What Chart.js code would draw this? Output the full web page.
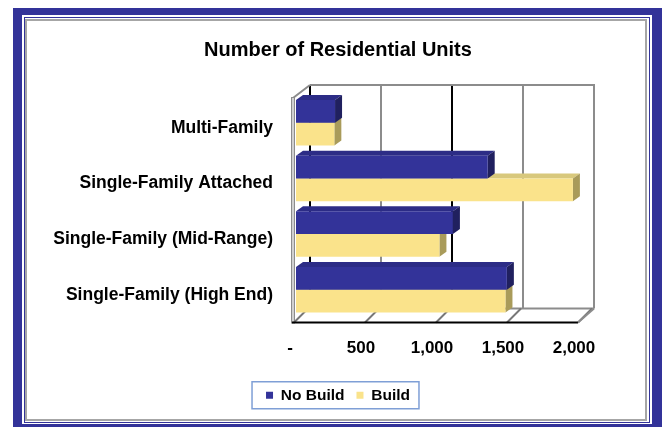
<!DOCTYPE html>
<html>
<head>
<meta charset="utf-8">
<script src="https://cdn.jsdelivr.net/npm/chart.js@4"></script>
<style>
  html, body { margin: 0; padding: 0; background: #fff; overflow: hidden; }
  .frame { position: absolute; box-sizing: border-box; }
  #blue  { left: 13px; top: 8px;  width: 670px; height: 440px; background: #333399; }
  #white { left: 22px; top: 15px; width: 630px; height: 409px; background: #fff; }
  #thin  { left: 24px; top: 17px; width: 626px; height: 406px; border: 1px solid #333399; }
  #gray  { left: 25px; top: 19px; width: 622px; height: 402px; border: 2px solid #a6a6a6; background: #fff; }
  #wrap  { position: absolute; left: 0; top: 0; width: 662px; height: 427px; }
</style>
</head>
<body>
<div class="frame" id="blue"></div>
<div class="frame" id="white"></div>
<div class="frame" id="thin"></div>
<div class="frame" id="gray"></div>
<div id="wrap"><canvas id="chart"></canvas></div>
<script>
// ----- data -----
const categories = ['Multi-Family', 'Single-Family Attached', 'Single-Family (Mid-Range)', 'Single-Family (High End)'];
const noBuild = [275, 1350, 1105, 1485];
const build   = [270, 1950, 1010, 1475];
const seriesNames = ['No Build', 'Build'];
const tickValues = [0, 500, 1000, 1500, 2000];
const tickLabels = ['-', '500', '1,000', '1,500', '2,000'];

// ----- styling -----
const FONT = 'Arial, "Liberation Sans", sans-serif';
const BLUE = '#333399', YELLOW = '#FAE38B';
const faces = {
  [BLUE]:   { top: '#2c2c86', side: '#20205f' },
  [YELLOW]: { top: '#d8c87c', side: '#a99b5a' }
};
// wall depth: back wall is shifted right by dx; its top sits 10px above the plot,
// the floor's back edge 9px above the plot bottom, its front edge 5px below
const WALL = { dx: 14, topLift: 10, floorBack: 9, floorFront: 5 };
const BAR  = { dx: 7, dy: -5 };
const gridClr = v => (v === 0 || v === 1000) ? '#000' : '#8c8c8c';

/* back wall, floor and side walls drawn behind the bars */
const wall3d = {
  id: 'wall3d',
  beforeDatasetsDraw(chart) {
    const { ctx, chartArea: a, scales: { x } } = chart;
    const dx = WALL.dx;
    const backTop = a.top - WALL.topLift, backBot = a.bottom - WALL.floorBack;
    const floorY = a.bottom + WALL.floorFront;
    ctx.save();

    // back-wall gridlines
    tickValues.forEach(v => {
      const px = x.getPixelForValue(v) + dx;
      ctx.strokeStyle = gridClr(v);
      ctx.lineWidth = 2;
      ctx.beginPath();
      ctx.moveTo(px, backTop);
      ctx.lineTo(px, backBot);
      ctx.stroke();
    });

    // top and floor back edges, top-left diagonal
    ctx.strokeStyle = '#8c8c8c';
    ctx.lineWidth = 2;
    ctx.beginPath();
    ctx.moveTo(a.left + dx, backTop); ctx.lineTo(a.right + dx + 1, backTop);
    ctx.moveTo(a.left + dx, backBot); ctx.lineTo(a.right + dx, backBot);
    ctx.moveTo(a.left - 3, a.top + 3); ctx.lineTo(a.left + dx, backTop);
    ctx.stroke();

    // left wall (thin slab)
    ctx.fillStyle = '#d0d0d0';
    ctx.fillRect(a.left - 4, a.top + 2, 3, floorY - a.top - 2);
    ctx.strokeStyle = '#8c8c8c';
    ctx.lineWidth = 1;
    ctx.strokeRect(a.left - 4.5, a.top + 2.5, 3, floorY - a.top - 2);

    // floor diagonals at each tick
    ctx.strokeStyle = '#777';
    ctx.lineWidth = 2;
    tickValues.forEach(v => {
      const px = x.getPixelForValue(v);
      ctx.beginPath();
      ctx.moveTo(px - 2, floorY);
      ctx.lineTo(px + dx - 2, backBot);
      ctx.stroke();
    });

    // bar depth faces (lower series first so the upper bar sits on it)
    for (let d = chart.data.datasets.length - 1; d >= 0; d--) {
      const ds = chart.data.datasets[d];
      const f = faces[ds.backgroundColor];
      chart.getDatasetMeta(d).data.forEach(el => {
        const x0 = el.base, x1 = el.x;
        const t = el.y - el.height / 2, b = el.y + el.height / 2;
        ctx.fillStyle = f.top;
        ctx.beginPath();
        ctx.moveTo(x0, t); ctx.lineTo(x0 + BAR.dx, t + BAR.dy);
        ctx.lineTo(x1 + BAR.dx, t + BAR.dy); ctx.lineTo(x1, t);
        ctx.closePath(); ctx.fill();
        ctx.fillStyle = f.side;
        ctx.beginPath();
        ctx.moveTo(x1, t); ctx.lineTo(x1 + BAR.dx, t + BAR.dy);
        ctx.lineTo(x1 + BAR.dx, b + BAR.dy); ctx.lineTo(x1, b);
        ctx.closePath(); ctx.fill();
      });
    }
    ctx.restore();
  },
  afterDatasetsDraw(chart) {
    const { ctx, chartArea: a } = chart;
    const floorY = a.bottom + WALL.floorFront;
    ctx.save();
    // front floor edge and right-hand corner
    ctx.strokeStyle = '#000';
    ctx.lineWidth = 2;
    ctx.beginPath();
    ctx.moveTo(a.left - 4, floorY); ctx.lineTo(a.right - 2, floorY);
    ctx.stroke();
    ctx.strokeStyle = '#8c8c8c';
    ctx.beginPath();
    ctx.moveTo(a.right - 2, floorY); ctx.lineTo(a.right + WALL.dx, a.bottom - WALL.floorBack);
    ctx.stroke();
    ctx.restore();
  }
};

/* light blue frame round the legend */
const legendBox = {
  id: 'legendBox',
  afterDraw(chart) {
    const hb = chart.legend.legendHitBoxes;
    if (!hb || !hb.length) return;
    const l = Math.min(...hb.map(h => h.left)) - 14;
    const r = Math.max(...hb.map(h => h.left + h.width)) + 9;
    const cy = hb[0].top + hb[0].height / 2;
    const ctx = chart.ctx;
    ctx.save();
    ctx.strokeStyle = '#7f9fd6';
    ctx.lineWidth = 1.5;
    ctx.strokeRect(l, cy - 13.5, r - l, 27);
    ctx.restore();
  }
};

new Chart(document.getElementById('chart'), {
  type: 'bar',
  data: {
    labels: categories,
    datasets: [
      { label: seriesNames[0], data: noBuild, backgroundColor: BLUE,   borderWidth: 0 },
      { label: seriesNames[1], data: build,   backgroundColor: YELLOW, borderWidth: 0 }
    ]
  },
  options: {
    indexAxis: 'y',
    responsive: true,
    maintainAspectRatio: false,
    animation: false,
    categoryPercentage: 0.82,
    barPercentage: 1,
    layout: { padding: { left: 34, right: 20, top: 0, bottom: 14 } },
    scales: {
      x: {
        min: 0, max: 2000,
        grid: { display: false, drawTicks: false },
        border: { display: false },
        afterBuildTicks: s => { s.ticks = tickValues.map(v => ({ value: v })); },
        ticks: {
          font: { family: FONT, size: 17, weight: 'bold' }, color: '#000',
          padding: 21, labelOffset: -6, maxRotation: 0, autoSkip: false,
          callback: (v, i) => tickLabels[i]
        },
        afterFit: s => { s.height = 58; }
      },
      y: {
        position: 'left',
        grid: { display: false, drawTicks: false },
        border: { display: false },
        ticks: { font: { family: FONT, size: 17.5, weight: 'bold' }, color: '#000', padding: 23, labelOffset: 5 },
        afterFit: s => { s.width = 262; }
      },
      y2: {
        type: 'category',
        position: 'right',
        grid: { display: false, drawTicks: false },
        border: { display: false },
        ticks: { display: false },
        afterFit: s => { s.width = 62; }
      }
    },
    plugins: {
      title: {
        display: true,
        text: 'Number of Residential Units',
        color: '#000',
        font: { family: FONT, size: 20, weight: 'bold' },
        padding: { top: 38, bottom: 33 }
      },
      legend: {
        position: 'bottom',
        labels: {
          boxWidth: 7, boxHeight: 7, padding: 12,
          color: '#000', font: { family: FONT, size: 15.5, weight: 'bold' }
        }
      },
      tooltip: { enabled: false }
    }
  },
  plugins: [wall3d, legendBox]
});
</script>
</body>
</html>
